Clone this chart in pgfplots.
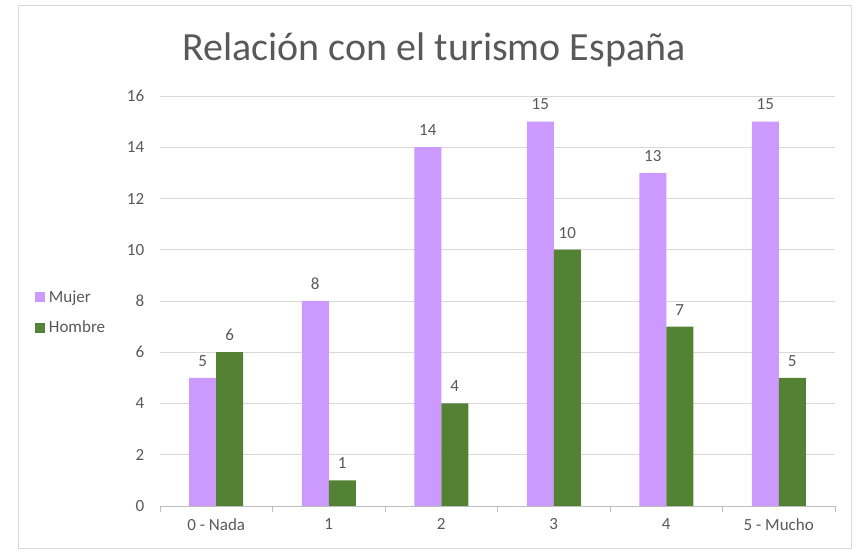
\documentclass[border=0pt]{standalone}
\usepackage{pgfplots}
\pgfplotsset{compat=1.18}
\usepackage{fontspec}
\setmainfont{Carlito}

\definecolor{mujer}{RGB}{204,153,255}
\definecolor{hombre}{RGB}{84,130,53}
\definecolor{txt}{RGB}{89,89,89}
\definecolor{gridc}{RGB}{217,217,217}

\begin{document}
\begin{tikzpicture}[x=1pt,y=1pt]
\useasboundingbox (0,0) rectangle (852,549);
\draw[gridc] (18,1) rectangle (851,544);
\begin{axis}[
    at={(160pt,43pt)}, anchor=south west,
    scale only axis,
    width=675pt, height=410pt,
    ybar=0pt,
    bar width=27pt,
    xmin=-0.5, xmax=5.5,
    ymin=0, ymax=16,
    xtick={0,1,2,3,4,5},
    xticklabels={0 - Nada, 1, 2, 3, 4, 5 - Mucho},
    minor xtick={-0.5,0.5,1.5,2.5,3.5,4.5,5.5},
    ytick={0,2,...,16},
    major x tick style={draw=none},
    minor x tick style={draw=gridc!70!gray, thick},
    ytick style={draw=none},
    tick align=outside,
    minor tick length=6pt,
    ymajorgrids=true,
    grid style={gridc, thick},
    axis x line*=bottom,
    axis y line*=left,
    y axis line style={draw=none},
    x axis line style={gridc!70!gray, thick, -},
    tick label style={font=\fontsize{17}{20}\selectfont, text=txt},
    /pgf/number format/assume math mode=true,
    xticklabel style={yshift=-5pt},
    yticklabel style={xshift=-8pt},
    title={Relación con el turismo España},
    title style={at={(0.406,1.097)}, anchor=center, font=\fontsize{40}{46}\selectfont, text=txt},
    nodes near coords,
    every node near coord/.append style={font=\fontsize{17}{20}\selectfont, text=txt, yshift=8pt},
    legend style={at={(-0.19,0.472)}, anchor=west, draw=none, fill=none,
        font=\fontsize{17}{20}\selectfont, text=txt, row sep=13pt,
        nodes={inner xsep=4pt}},
    legend cell align=left,
    legend image code/.code={\fill[#1] (0pt,-5pt) rectangle (10pt,5pt);},
]
\addplot[fill=mujer, draw=none] coordinates {
    (0,5) (1,8) (2,14) (3,15) (4,13) (5,15)
};
\addplot[fill=hombre, draw=none] coordinates {
    (0,6) (1,1) (2,4) (3,10) (4,7) (5,5)
};
\legend{Mujer, Hombre}
\end{axis}
\end{tikzpicture}
\end{document}
